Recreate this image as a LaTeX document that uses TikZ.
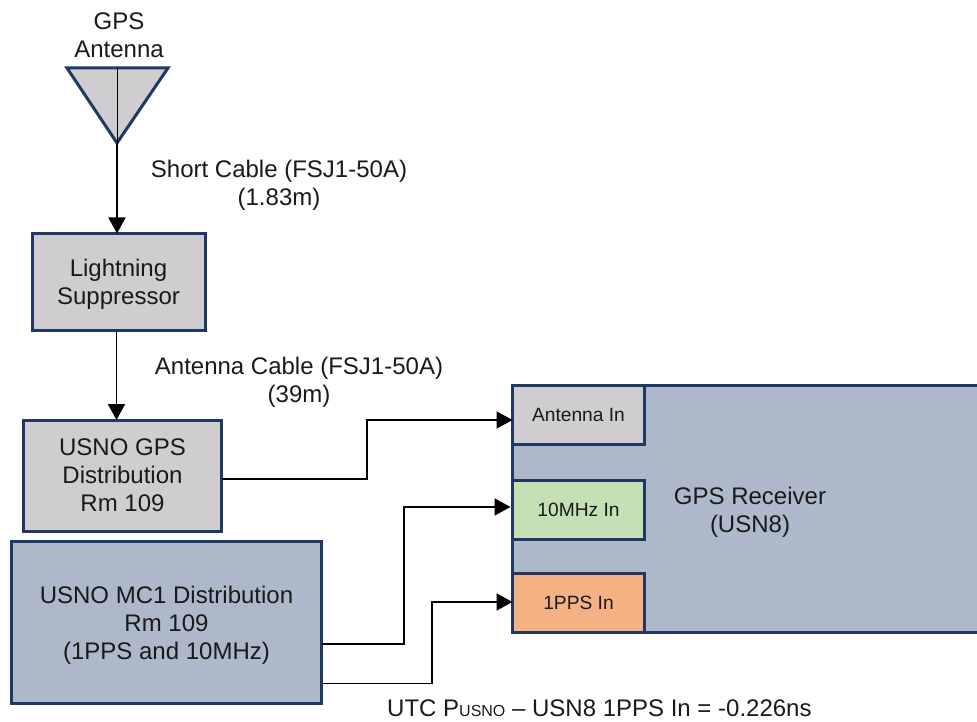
\documentclass[tikz,border=0pt]{standalone}
\usepackage{fontspec}
\setmainfont{Liberation Sans}
\usetikzlibrary{arrows.meta}
\definecolor{edgeblue}{HTML}{1F3864}
\definecolor{boxgrey}{HTML}{CFCDCF}
\definecolor{boxblue}{HTML}{ADB8CA}
\definecolor{boxgreen}{HTML}{C5E0B4}
\definecolor{boxorange}{HTML}{F4B183}
\definecolor{ink}{HTML}{1A1A1A}
\tikzset{
  x=1pt,y=-1pt,
  bigtext/.style={font=\fontsize{24}{28}\selectfont,text=ink,align=center,inner sep=0pt},
  smalltext/.style={font=\fontsize{19.2}{23}\selectfont,text=ink,align=center,inner sep=0pt},
  box/.style={draw=edgeblue,line width=3pt,outer sep=0pt,inner sep=0pt,anchor=north west},
  wire/.style={draw=black,line width=1.8pt,-{Triangle[length=16pt,width=17pt]}},
}
\begin{document}
\begin{tikzpicture}
\clip (0,0) rectangle (977,722);
\fill[white] (0,0) rectangle (977,722);
% antenna
\draw[edgeblue,line width=3pt,fill=boxgrey,miter limit=4] (67,68) -- (168,68) -- (117,143) -- cycle;
\coordinate (anttop) at (117,68);
\coordinate (anttip) at (117,144);
\draw[black,line width=0.8pt] (anttop) -- (anttip);
\node[bigtext] (antlabel) at (119,35) {GPS\\Antenna};
% boxes
\node[box,fill=boxgrey,minimum width=173pt,minimum height=97pt] (ls) at (32,233.5) {};
\node[bigtext] (lslabel) at ([yshift=-2.5pt]ls.center) {Lightning\\Suppressor};
\node[box,fill=boxgrey,minimum width=198pt,minimum height=111pt] (gd) at (23.5,420) {};
\node[bigtext] (gdlabel) at (gd.center) {USNO GPS\\Distribution\\Rm 109};
\node[box,fill=boxblue,minimum width=310pt,minimum height=162pt] (mc) at (11.5,541.5) {};
\node[bigtext] (mclabel) at ([yshift=-2.5pt]mc.center) {USNO MC1 Distribution\\Rm 109\\(1PPS and 10MHz)};
\node[box,fill=boxblue,minimum width=490pt,minimum height=247pt] (rx) at (512.5,385) {};
\node[bigtext] (rxlabel) at (750,512.5) {GPS Receiver\\(USN8)};
\node[box,fill=boxgrey,smalltext,minimum width=132pt,minimum height=59pt] (ai) at (512.5,385) {Antenna In};
\node[box,fill=boxgreen,smalltext,minimum width=132pt,minimum height=59pt] (ten) at (512.5,480) {10MHz In};
\node[box,fill=boxorange,smalltext,minimum width=132pt,minimum height=59pt] (pps) at (512.5,573) {1PPS In};
% labels
\node[bigtext] (l1) at (279,185) {Short Cable (FSJ1-50A)\\(1.83m)};
\node[bigtext] (l2) at (299,382) {Antenna Cable (FSJ1-50A)\\(39m)};
\node[bigtext,anchor=west] (l3) at (387,708) {UTC P{\fontsize{16}{16}\selectfont USNO} – USN8 1PPS In = -0.226ns};
% connectors
\draw[wire] (anttip) -- (ls.north -| anttip);
\draw[wire] ([xshift=-2pt]ls.south) -- ([xshift=-6pt]gd.north);
\draw[wire] ([yshift=-3.5pt]gd.east) -| (367,420) -- ([yshift=-5.5pt]ai.west);
\draw[wire] ([yshift=-21.5pt]mc.east) -| (404,507) -- ([xshift=-2pt,yshift=2.5pt]ten.west);
\draw[wire] ([yshift=-61pt]mc.east) -| (432,602) -- ([yshift=.5pt]pps.west);
\end{tikzpicture}
\end{document}
